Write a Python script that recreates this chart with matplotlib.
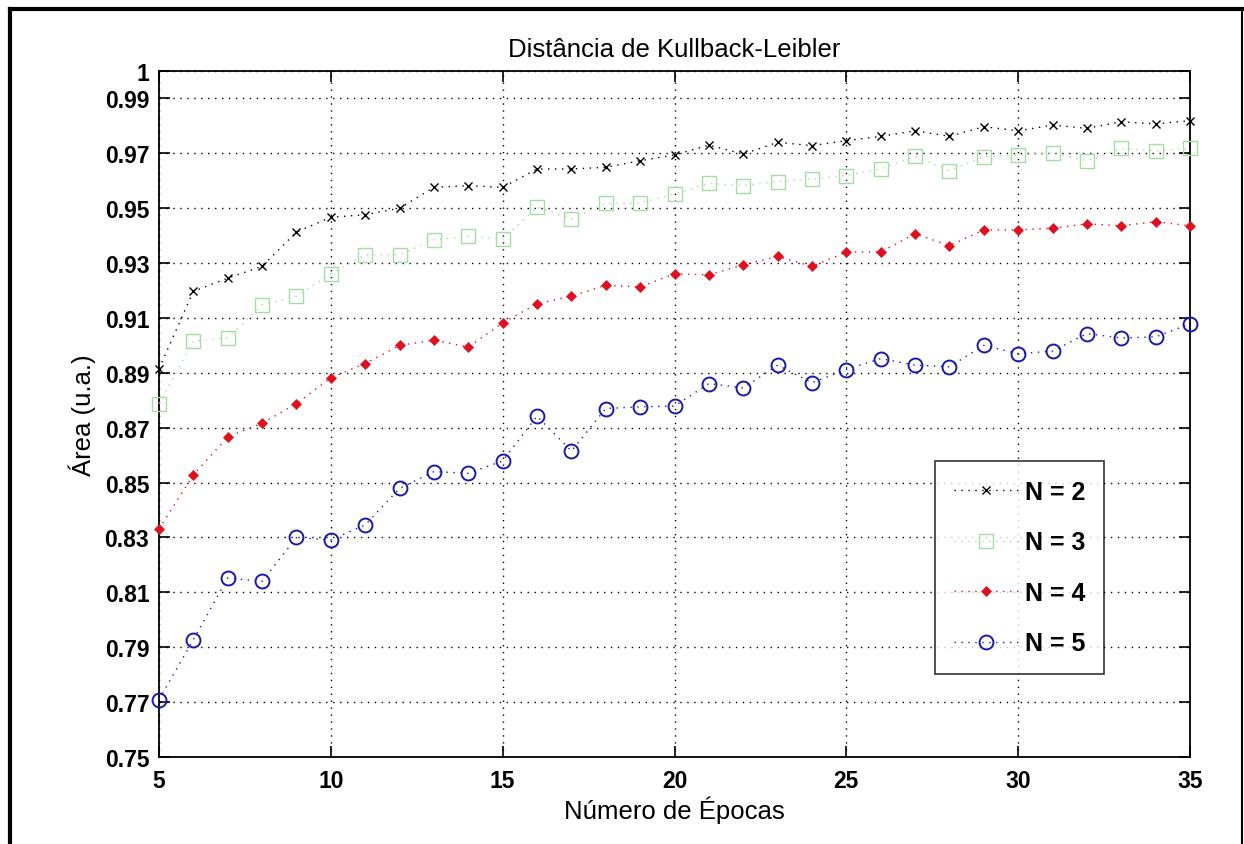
import numpy as np
import matplotlib
matplotlib.use("Agg")
import matplotlib.pyplot as plt
from matplotlib.lines import Line2D

plt.rcParams["font.family"] = ["Liberation Sans", "DejaVu Sans"]

# ── Data: KL-distance area vs. number of epochs ──────────────────
epochs = list(range(5, 36))

area_n2 = [0.8915, 0.9197, 0.9245, 0.9288, 0.9413, 0.9467, 0.9476, 0.9500,
           0.9576, 0.9582, 0.9576, 0.9643, 0.9643, 0.9649, 0.9673, 0.9694,
           0.9730, 0.9697, 0.9740, 0.9728, 0.9746, 0.9762, 0.9782, 0.9762,
           0.9797, 0.9782, 0.9803, 0.9791, 0.9815, 0.9807, 0.9819]

area_n3 = [0.8788, 0.9015, 0.9028, 0.9148, 0.9179, 0.9261, 0.9331, 0.9330,
           0.9385, 0.9397, 0.9388, 0.9504, 0.9461, 0.9518, 0.9518, 0.9552,
           0.9591, 0.9582, 0.9597, 0.9607, 0.9619, 0.9643, 0.9689, 0.9637,
           0.9688, 0.9694, 0.9700, 0.9673, 0.9718, 0.9709, 0.9718]

area_n4 = [0.8331, 0.8528, 0.8667, 0.8716, 0.8788, 0.8882, 0.8934, 0.9000,
           0.9019, 0.8994, 0.9082, 0.9152, 0.9179, 0.9219, 0.9213, 0.9261,
           0.9257, 0.9294, 0.9324, 0.9288, 0.9340, 0.9340, 0.9407, 0.9364,
           0.9421, 0.9421, 0.9427, 0.9443, 0.9436, 0.9451, 0.9436]

area_n5 = [0.7709, 0.7928, 0.8152, 0.8140, 0.8300, 0.8291, 0.8346, 0.8479,
           0.8540, 0.8534, 0.8579, 0.8742, 0.8615, 0.8770, 0.8776, 0.8779,
           0.8861, 0.8845, 0.8928, 0.8864, 0.8912, 0.8952, 0.8928, 0.8922,
           0.9000, 0.8970, 0.8979, 0.9043, 0.9027, 0.9031, 0.9079]

labels = ["N = 2", "N = 3", "N = 4", "N = 5"]

x_ticks = [5, 10, 15, 20, 25, 30, 35]
y_ticks = [0.75, 0.77, 0.79, 0.81, 0.83, 0.85, 0.87, 0.89, 0.91, 0.93,
           0.95, 0.97, 0.99, 1.0]
y_ticklabels = ["0.75", "0.77", "0.79", "0.81", "0.83", "0.85", "0.87",
                "0.89", "0.91", "0.93", "0.95", "0.97", "0.99", "1"]

# ── Figure ────────────────────────────────────────────────────────
DPI = 100
W, H = 1244, 845
fig = plt.figure(figsize=(W / DPI, H / DPI), dpi=DPI, facecolor="white")
ax = fig.add_axes([159 / W, 1 - 758 / H, (1190 - 159) / W, (758 - 72) / H])

DOT = (0, (1, 4))
styles = [
    dict(color="black", marker="x", markersize=5.5, mew=1.0, mfc="none"),
    dict(color="#a6dca6", marker="s", markersize=9.5, mew=1.0, mfc="none"),
    dict(color="#e0101e", marker="D", markersize=5.0, mew=0.5, mfc="#e0101e"),
    dict(color="#1a1aa8", marker="o", markersize=10.0, mew=1.4, mfc="none"),
]
series = [area_n2, area_n3, area_n4, area_n5]

for vals, lab, st in zip(series, labels, styles):
    ax.plot(epochs, vals, linestyle=DOT, lw=1.0, label=lab, clip_on=False,
            zorder=3, **st)

ax.set_xlim(5, 35)
ax.set_ylim(0.75, 1.0)
ax.set_xticks(x_ticks)
ax.set_yticks(y_ticks)
ax.set_xticklabels([str(v) for v in x_ticks], fontsize=16.5, fontweight="bold")
ax.set_yticklabels(y_ticklabels, fontsize=16.5, fontweight="bold")
ax.tick_params(direction="in", length=8, width=1.2, top=True, right=True,
               pad=7)
ax.tick_params(axis="x", pad=9)

ax.grid(True, color="black", linestyle=(0, (1, 4)), lw=1.0)
for s in ax.spines.values():
    s.set_linewidth(1.3)

ax.set_title("Distância de Kullback-Leibler", fontsize=18.5, pad=11)
ax.set_xlabel("Número de Épocas", fontsize=18.5, labelpad=2)
ax.set_ylabel("Área (u.a.)", fontsize=18.5, labelpad=6)

leg = ax.legend(loc="upper left",
                bbox_to_anchor=((935 - 159) / 1031, (758 - 462) / 686),
                prop=dict(weight="bold", size=18),
                frameon=True, fancybox=False, edgecolor="black",
                borderpad=0.75, labelspacing=1.06, handlelength=2.6,
                handletextpad=0.25, borderaxespad=0)
leg.get_frame().set_linewidth(1.2)

# window frame around the figure
fig.add_artist(Line2D([10 / W, 10 / W], [0, 1 - 10 / H], color="black",
                      lw=3.0, transform=fig.transFigure))
fig.add_artist(Line2D([10 / W, 1242 / W], [1 - 10 / H, 1 - 10 / H],
                      color="black", lw=3.0, transform=fig.transFigure))
fig.add_artist(Line2D([1242 / W, 1242 / W], [0, 1 - 10 / H], color="black",
                      lw=1.5, transform=fig.transFigure))

fig.savefig("out.png", dpi=DPI, facecolor="white")
